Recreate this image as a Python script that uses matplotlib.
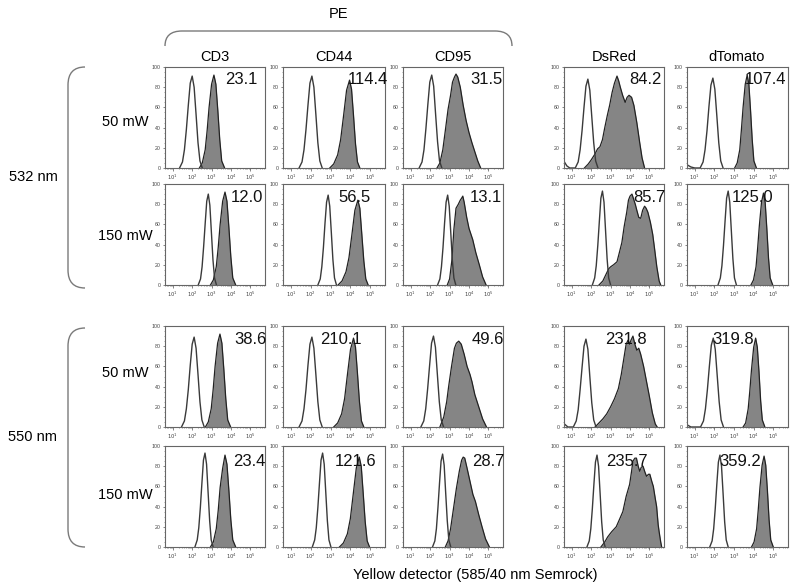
import numpy as np
import matplotlib.pyplot as plt
from matplotlib.path import Path
from matplotlib.patches import PathPatch

plt.rcParams['font.family'] = ['Liberation Sans', 'DejaVu Sans']

# columns / rows of the figure
columns = ['CD3', 'CD44', 'CD95', 'DsRed', 'dTomato']
powers = ['50 mW', '150 mW', '50 mW', '150 mW']
lasers = ['532 nm', '550 nm']

# ratio printed in each panel (rows: 532/50, 532/150, 550/50, 550/150)
ratio_cd3 = [23.1, 12.0, 38.6, 23.4]
ratio_cd44 = [114.4, 56.5, 210.1, 121.6]
ratio_cd95 = [31.5, 13.1, 49.6, 28.7]
ratio_dsred = [84.2, 85.7, 231.8, 235.7]
ratio_dtomato = [107.4, 125.0, 319.8, 359.2]

# histogram outlines, one row per panel:
# x = log10 intensity, y = % of max

# unstained control (open curve)
cd3_ctrl_x = [
    [1.35, 1.5, 1.6, 1.7, 1.8, 1.9, 2.0, 2.1, 2.2, 2.3, 2.4, 2.52],
    [2.31, 2.43, 2.51, 2.59, 2.67, 2.75, 2.83, 2.91, 2.99, 3.07, 3.15, 3.25],
    [1.45, 1.6, 1.7, 1.8, 1.9, 2.0, 2.1, 2.2, 2.3, 2.4, 2.5, 2.62],
    [2.14, 2.26, 2.34, 2.42, 2.5, 2.58, 2.66, 2.74, 2.82, 2.9, 2.98, 3.08],
]
cd3_ctrl_y = [
    [0, 6, 18, 38, 62, 84, 91, 80, 53, 25, 7, 0],
    [0, 6, 18, 38, 61, 83, 90, 79, 52, 25, 7, 0],
    [0, 6, 18, 37, 61, 82, 89, 78, 52, 25, 7, 0],
    [0, 7, 19, 39, 63, 86, 93, 82, 54, 26, 7, 0],
]
cd44_ctrl_x = [
    [1.41, 1.56, 1.66, 1.76, 1.86, 1.96, 2.06, 2.16, 2.26, 2.36, 2.46, 2.58],
    [2.36, 2.48, 2.56, 2.64, 2.72, 2.8, 2.88, 2.96, 3.04, 3.12, 3.2, 3.3],
    [1.41, 1.56, 1.66, 1.76, 1.86, 1.96, 2.06, 2.16, 2.26, 2.36, 2.46, 2.58],
    [2.08, 2.2, 2.28, 2.36, 2.44, 2.52, 2.6, 2.68, 2.76, 2.84, 2.92, 3.02],
]
cd44_ctrl_y = [
    [0, 6, 18, 38, 62, 84, 91, 80, 53, 25, 7, 0],
    [0, 6, 18, 37, 61, 82, 89, 78, 52, 25, 7, 0],
    [0, 6, 18, 37, 61, 82, 89, 78, 52, 25, 7, 0],
    [0, 7, 19, 39, 63, 86, 93, 82, 54, 26, 7, 0],
]
cd95_ctrl_x = [
    [1.43, 1.58, 1.68, 1.78, 1.88, 1.98, 2.08, 2.18, 2.28, 2.38, 2.48, 2.6],
    [2.38, 2.5, 2.58, 2.66, 2.74, 2.82, 2.9, 2.98, 3.06, 3.14, 3.22, 3.32],
    [1.52, 1.67, 1.77, 1.87, 1.97, 2.07, 2.17, 2.27, 2.37, 2.47, 2.57, 2.69],
    [2.12, 2.24, 2.32, 2.4, 2.48, 2.56, 2.64, 2.72, 2.8, 2.88, 2.96, 3.06],
]
cd95_ctrl_y = [
    [0, 6, 18, 39, 63, 85, 92, 81, 53, 26, 7, 0],
    [0, 6, 18, 37, 61, 82, 89, 78, 52, 25, 7, 0],
    [0, 6, 18, 38, 61, 83, 90, 79, 52, 25, 7, 0],
    [0, 6, 18, 39, 63, 85, 92, 81, 53, 26, 7, 0],
]
dsred_ctrl_x = [
    [0.62, 0.75, 0.9, 1.18, 1.33, 1.43, 1.53, 1.63, 1.73, 1.83, 1.93, 2.03, 2.13, 2.23, 2.35],
    [2.06, 2.18, 2.26, 2.34, 2.42, 2.5, 2.58, 2.66, 2.74, 2.82, 2.9, 3.0],
    [0.62, 0.8, 1.08, 1.23, 1.33, 1.43, 1.53, 1.63, 1.73, 1.83, 1.93, 2.03, 2.13, 2.25],
    [1.78, 1.9, 1.98, 2.06, 2.14, 2.22, 2.3, 2.38, 2.46, 2.54, 2.62, 2.72],
]
dsred_ctrl_y = [
    [6, 2, 0, 0, 6, 18, 37, 60, 81, 88, 77, 51, 25, 7, 0],
    [0, 7, 19, 39, 63, 86, 93, 82, 54, 26, 7, 0],
    [3, 0, 0, 6, 17, 37, 59, 80, 87, 77, 50, 24, 7, 0],
    [0, 6, 18, 38, 62, 84, 91, 80, 53, 25, 7, 0],
]
dtomato_ctrl_x = [
    [0.62, 0.8, 1.0, 1.27, 1.42, 1.52, 1.62, 1.72, 1.82, 1.92, 2.02, 2.12, 2.22, 2.32, 2.44],
    [2.18, 2.3, 2.38, 2.46, 2.54, 2.62, 2.7, 2.78, 2.86, 2.94, 3.02, 3.12],
    [0.62, 0.8, 1.29, 1.44, 1.54, 1.64, 1.74, 1.84, 1.94, 2.04, 2.14, 2.24, 2.34, 2.46],
    [1.76, 1.88, 1.96, 2.04, 2.12, 2.2, 2.28, 2.36, 2.44, 2.52, 2.6, 2.7],
]
dtomato_ctrl_y = [
    [3, 1, 0, 0, 6, 18, 37, 61, 82, 89, 78, 52, 25, 7, 0],
    [0, 7, 19, 39, 63, 86, 93, 82, 54, 26, 7, 0],
    [2, 0, 0, 6, 18, 37, 60, 81, 88, 77, 51, 25, 7, 0],
    [0, 6, 18, 38, 62, 84, 91, 80, 53, 25, 7, 0],
]

# stained sample (filled curve)
cd3_stain_x = [
    [2.37, 2.52, 2.67, 2.77, 2.87, 3.0, 3.12, 3.22, 3.32, 3.42, 3.52, 3.67],
    [2.94, 3.09, 3.24, 3.34, 3.44, 3.57, 3.69, 3.79, 3.89, 3.99, 4.09, 4.24],
    [2.68, 2.83, 2.98, 3.08, 3.18, 3.31, 3.43, 3.53, 3.63, 3.73, 3.83, 3.98],
    [2.94, 3.09, 3.24, 3.34, 3.44, 3.57, 3.69, 3.79, 3.89, 3.99, 4.09, 4.24],
]
cd3_stain_y = [
    [0, 5, 18, 37, 60, 83, 92, 83, 57, 28, 7, 0],
    [0, 5, 18, 37, 60, 83, 92, 83, 57, 28, 7, 0],
    [0, 5, 18, 37, 60, 83, 92, 83, 57, 28, 7, 0],
    [0, 5, 18, 36, 59, 78, 91, 82, 56, 27, 7, 0],
]
cd44_stain_x = [
    [2.96, 3.16, 3.36, 3.51, 3.66, 3.81, 3.96, 4.06, 4.16, 4.26, 4.36, 4.48],
    [3.38, 3.58, 3.78, 3.93, 4.08, 4.23, 4.38, 4.48, 4.58, 4.68, 4.78, 4.9],
    [3.16, 3.36, 3.56, 3.71, 3.86, 4.01, 4.16, 4.26, 4.36, 4.46, 4.56, 4.68],
    [3.45, 3.65, 3.85, 4.0, 4.15, 4.3, 4.45, 4.55, 4.65, 4.75, 4.85, 4.97],
]
cd44_stain_y = [
    [0, 4, 13, 28, 52, 77, 87, 78, 52, 24, 6, 0],
    [0, 4, 13, 27, 50, 74, 84, 76, 50, 24, 6, 0],
    [0, 4, 13, 28, 53, 77, 88, 79, 53, 25, 6, 0],
    [0, 4, 13, 28, 53, 78, 89, 80, 53, 25, 6, 0],
]
cd95_stain_x = [
    [2.35, 2.5, 2.65, 2.8, 2.92, 3.05, 3.15, 3.25, 3.33, 3.42, 3.55, 3.7, 3.85, 4.0, 4.15, 4.3, 4.45, 4.6],
    [2.88, 3.0, 3.12, 3.22, 3.33, 3.45, 3.55, 3.62, 3.68, 3.75, 3.88, 4.0, 4.19, 4.35, 4.53, 4.7, 4.88],
    [2.5, 2.7, 2.85, 2.95, 3.1, 3.25, 3.35, 3.47, 3.6, 3.75, 3.9, 4.05, 4.15, 4.3, 4.5, 4.7, 4.9],
    [2.78, 2.92, 3.05, 3.2, 3.35, 3.5, 3.62, 3.7, 3.78, 3.9, 4.05, 4.2, 4.33, 4.5, 4.67, 4.85, 5.05],
]
cd95_stain_y = [
    [0, 5, 18, 40, 58, 72, 85, 90, 93, 90, 80, 62, 47, 35, 25, 16, 7, 0],
    [0, 6, 25, 55, 76, 80, 84, 86, 88, 82, 67, 56, 45, 32, 20, 8, 0],
    [0, 10, 25, 40, 60, 78, 83, 85, 82, 72, 60, 52, 45, 32, 20, 8, 0],
    [0, 6, 18, 38, 58, 75, 86, 89, 88, 78, 65, 52, 45, 32, 20, 8, 0],
]
dsred_stain_x = [
    [1.65, 1.85, 2.0, 2.2, 2.33, 2.45, 2.58, 2.7, 2.83, 2.95, 3.08, 3.2, 3.33, 3.42, 3.5, 3.62, 3.75, 3.85, 3.95, 4.08, 4.2, 4.35, 4.5, 4.62, 4.75],
    [2.4, 2.6, 2.75, 2.9, 3.0, 3.15, 3.33, 3.45, 3.58, 3.7, 3.83, 3.92, 4.0, 4.1, 4.17, 4.27, 4.35, 4.45, 4.55, 4.65, 4.75, 4.83, 4.92, 5.05, 5.17, 5.27, 5.38, 5.5, 5.58],
    [2.2, 2.4, 2.6, 2.8, 3.0, 3.2, 3.4, 3.55, 3.7, 3.8, 3.9, 3.98, 4.05, 4.15, 4.25, 4.35, 4.45, 4.55, 4.7, 4.85, 5.0, 5.15, 5.3, 5.4],
    [2.5, 2.7, 2.85, 3.05, 3.29, 3.45, 3.63, 3.8, 3.98, 4.08, 4.15, 4.25, 4.33, 4.42, 4.5, 4.58, 4.67, 4.77, 4.85, 4.95, 5.02, 5.12, 5.2, 5.3, 5.37, 5.45, 5.5, 5.58, 5.63],
]
dsred_stain_y = [
    [0, 4, 8, 14, 19, 21, 28, 40, 52, 62, 75, 84, 91, 86, 80, 72, 65, 70, 72, 70, 62, 45, 25, 10, 0],
    [0, 4, 10, 16, 18, 20, 23, 32, 42, 58, 72, 84, 88, 90, 86, 80, 74, 67, 66, 74, 78, 76, 72, 62, 50, 35, 18, 4, 0],
    [0, 4, 8, 13, 20, 28, 38, 52, 70, 82, 86, 82, 86, 90, 82, 76, 78, 72, 60, 45, 30, 14, 3, 0],
    [0, 5, 10, 15, 20, 27, 35, 50, 62, 75, 85, 88, 88, 80, 75, 79, 80, 74, 70, 72, 72, 65, 60, 48, 40, 22, 15, 5, 0],
]
dtomato_stain_x = [
    [3.03, 3.16, 3.29, 3.37, 3.46, 3.57, 3.67, 3.755, 3.84, 3.925, 4.01, 4.14],
    [3.86, 3.99, 4.12, 4.2, 4.29, 4.4, 4.5, 4.585, 4.67, 4.755, 4.84, 4.97],
    [3.46, 3.59, 3.72, 3.8, 3.89, 4.0, 4.1, 4.185, 4.27, 4.355, 4.44, 4.57],
    [3.89, 4.02, 4.15, 4.23, 4.32, 4.43, 4.53, 4.615, 4.7, 4.785, 4.87, 5.0],
]
dtomato_stain_y = [
    [0, 5, 18, 37, 60, 83, 92, 83, 57, 28, 7, 0],
    [0, 5, 18, 36, 59, 82, 91, 82, 56, 27, 7, 0],
    [0, 4, 18, 35, 57, 79, 88, 79, 55, 26, 7, 0],
    [0, 5, 18, 36, 59, 81, 90, 81, 56, 27, 7, 0],
]

ctrl_x = [cd3_ctrl_x, cd44_ctrl_x, cd95_ctrl_x, dsred_ctrl_x, dtomato_ctrl_x]
ctrl_y = [cd3_ctrl_y, cd44_ctrl_y, cd95_ctrl_y, dsred_ctrl_y, dtomato_ctrl_y]
stain_x = [cd3_stain_x, cd44_stain_x, cd95_stain_x, dsred_stain_x, dtomato_stain_x]
stain_y = [cd3_stain_y, cd44_stain_y, cd95_stain_y, dsred_stain_y, dtomato_stain_y]
ratio_all = [ratio_cd3, ratio_cd44, ratio_cd95, ratio_dsred, ratio_dtomato]

# layout in pixels (800 x 587 canvas)
W, H = 800, 587
col_left = [165, 283, 403, 564, 687]
col_w = [100, 102, 100, 100, 101]
row_top = [67, 184, 326, 446]
row_h = 101
# where the ratio text starts inside each panel (axes fraction)
num_x = [
    [0.60, 0.63, 0.67, 0.65, 0.57],
    [0.66, 0.54, 0.67, 0.69, 0.44],
    [0.69, 0.36, 0.69, 0.41, 0.25],
    [0.68, 0.51, 0.69, 0.42, 0.32],
]
num_y = [0.88, 0.87, 0.87, 0.85]


def fx(px):
    return px / W


def fy(py):
    return 1 - py / H


fig = plt.figure(figsize=(8, 5.87), dpi=100)

for r in range(4):
    for c in range(5):
        ax = fig.add_axes([fx(col_left[c]), fy(row_top[r] + row_h),
                           col_w[c] / W, row_h / H])
        sx = 10 ** np.array(stain_x[c][r])
        sy = np.array(stain_y[c][r])
        cx = 10 ** np.array(ctrl_x[c][r])
        cy = np.array(ctrl_y[c][r])
        ax.fill_between(sx, sy, color='#858585', lw=0)
        ax.plot(sx, sy, color='#222222', lw=0.9)
        ax.plot(cx, cy, color='#3a3a3a', lw=1.0)
        ax.set_xscale('log')
        ax.set_xlim(10 ** 0.6, 10 ** 5.75)
        ax.set_ylim(0, 100)
        ax.set_xticks([10, 100, 1000, 10000, 100000])
        ax.set_xticklabels(['$10^1$', '$10^2$', '$10^3$', '$10^4$', '$10^5$'])
        ax.set_yticks([0, 20, 40, 60, 80, 100])
        ax.set_yticks(np.arange(0, 101, 5), minor=True)
        ax.tick_params(labelsize=3.8, length=1.8, width=0.5, pad=1.5,
                       colors='#555555', labelcolor='#444444')
        ax.tick_params(which='minor', length=1.0, width=0.4, colors='#555555')
        for s in ax.spines.values():
            s.set_color('#666666')
            s.set_linewidth(0.8)
        ax.text(num_x[r][c], num_y[r], f'{ratio_all[c][r]:.1f}', transform=ax.transAxes,
                fontsize=12, ha='left', va='center', color='#111111')

# column headers
col_cx = [215, 334, 453, 614, 737]
for name, cx in zip(columns, col_cx):
    fig.text(fx(cx), fy(57), name, ha='center', va='center', fontsize=10.5)
fig.text(fx(338), fy(14), 'PE', ha='center', va='center', fontsize=10.5)

# row labels
row_lab_y = [122, 236, 373, 495]
for lab, ry in zip(powers, row_lab_y):
    fig.text(fx(125), fy(ry), lab, ha='center', va='center', fontsize=10.5)
for lab, ly in zip(lasers, [177, 437]):
    fig.text(fx(33), fy(ly), lab, ha='center', va='center', fontsize=10.5)

fig.text(fx(475), fy(575), 'Yellow detector (585/40 nm Semrock)',
         ha='center', va='center', fontsize=10.5)


# brackets
def add_path(verts):
    pts = [(fx(x), fy(y)) for x, y in verts]
    codes = [Path.MOVETO, Path.CURVE3, Path.CURVE3, Path.LINETO, Path.CURVE3, Path.CURVE3]
    fig.add_artist(PathPatch(Path(pts, codes), transform=fig.transFigure,
                             fill=False, edgecolor='#7a7a7a', lw=1.0))


add_path([(165, 46), (165, 31), (182, 31), (495, 31), (512, 31), (512, 46)])
add_path([(85, 67), (68, 67), (68, 85), (68, 270), (68, 288), (85, 288)])
add_path([(85, 328), (68, 328), (68, 346), (68, 529), (68, 547), (85, 547)])

fig.savefig('out.png', dpi=100)
